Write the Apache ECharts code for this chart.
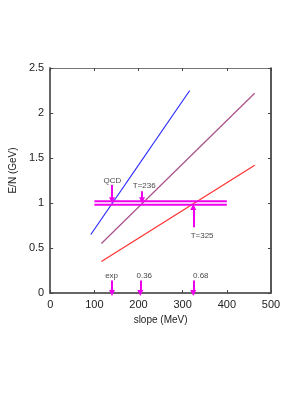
<!DOCTYPE html>
<html><head><meta charset="utf-8">
<script src="https://cdn.jsdelivr.net/npm/echarts@6/dist/echarts.min.js"></script>
<style>html,body{margin:0;padding:0;background:#fff}#c{width:286px;height:409px}</style>
</head><body><div id="c"></div>
<script>
// lines: [slope MeV, E/N GeV]
const blueLine = [[92, 0.65], [316, 2.25]];
const purpleLine = [[116, 0.55], [463, 2.22]];
const redLine = [[116, 0.35], [463, 1.42]];
const bandHigh = [[100, 1.02], [400, 1.02]];
const bandLow = [[100, 0.98], [400, 0.98]];
// arrows
const arrowX = [140, 208, 324, 140, 204, 324];
const arrowFrom = [1.20, 1.13, 0.73, 0.14, 0.14, 0.14];
const arrowTo = [1.03, 1.03, 0.955, 0.0, 0.0, 0.0];
// arrow labels
const labelText = ['QCD', 'T=236', 'T=325', 'exp', '0.36', '0.68'];
const labelX = [141, 213, 344, 139, 213, 341];
const labelY = [1.246, 1.187, 0.636, 0.186, 0.186, 0.186];
// axes
const xTicks = [0, 100, 200, 300, 400, 500];
const yTicks = [0, 0.5, 1, 1.5, 2, 2.5];

const font = 'Liberation Sans, Arial, Helvetica, sans-serif';
const chart = echarts.init(document.getElementById('c'), null, {renderer: 'canvas'});
const mag = '#ee00ee';
chart.setOption({
  animation: false,
  backgroundColor: '#fff',
  grid: {left: 46, right: 15, top: 68, bottom: 116},
  xAxis: [{
    type: 'value', position: 'bottom', min: xTicks[0], max: xTicks[xTicks.length-1], interval: 100,
    name: 'slope (MeV)', nameLocation: 'middle', nameGap: 20,
    nameTextStyle: {fontFamily: font, fontSize: 10, color: '#222'},
    axisLine: {show: true, onZero: false, lineStyle: {color: '#666', width: 2}},
    axisTick: {show: true, inside: true, length: 3, lineStyle: {color: '#444'}},
    axisLabel: {fontFamily: font, fontSize: 11, color: '#222', margin: 6},
    splitLine: {show: false}
  }, {
    type: 'value', position: 'top', min: xTicks[0], max: xTicks[xTicks.length-1], interval: 100,
    axisLine: {show: true, onZero: false, lineStyle: {color: '#777', width: 1}},
    axisTick: {show: true, inside: true, length: 3, lineStyle: {color: '#444'}},
    axisLabel: {show: false}, splitLine: {show: false}
  }],
  yAxis: [{
    type: 'value', position: 'left', min: yTicks[0], max: yTicks[yTicks.length-1], interval: 0.5,
    name: 'E/N (GeV)', nameLocation: 'middle', nameGap: 30, nameRotate: 90,
    nameTextStyle: {fontFamily: font, fontSize: 10, color: '#222', padding: [0, 0, 0, 20]},
    axisLine: {show: true, onZero: false, lineStyle: {color: '#666', width: 2}},
    axisTick: {show: true, inside: true, length: 3, lineStyle: {color: '#444'}},
    axisLabel: {fontFamily: font, fontSize: 11, color: '#222', margin: 6},
    splitLine: {show: false}
  }, {
    type: 'value', position: 'right', min: yTicks[0], max: yTicks[yTicks.length-1], interval: 0.5,
    axisLine: {show: true, onZero: false, lineStyle: {color: '#222', width: 1.5}},
    axisTick: {show: true, inside: true, length: 3, lineStyle: {color: '#444'}},
    axisLabel: {show: false}, splitLine: {show: false}
  }],
  series: [
    {type: 'line', data: blueLine, symbol: 'none', lineStyle: {color: '#2a2aff', width: 1.2}},
    {type: 'line', data: purpleLine, symbol: 'none', lineStyle: {color: '#a8508a', width: 1.2}},
    {type: 'line', data: redLine, symbol: 'none', lineStyle: {color: '#ff3030', width: 1.2}},
    {type: 'line', data: bandHigh, symbol: 'none', lineStyle: {color: mag, width: 2}},
    {type: 'line', data: bandLow, symbol: 'none', lineStyle: {color: mag, width: 2},
      markLine: {
        silent: true, animation: false,
        symbol: ['none', 'triangle'], symbolSize: [6, 6],
        label: {show: false},
        lineStyle: {color: mag, width: 2, type: 'solid'},
        data: arrowX.map((x, i) => [{coord: [x, arrowFrom[i]]}, {coord: [x, arrowTo[i]]}])
      }},
    {type: 'scatter', symbolSize: 0, silent: true,
      data: labelText.map((t, i) => [labelX[i], labelY[i], t]),
      label: {show: true, position: 'inside', formatter: p => p.value[2],
        fontFamily: font, fontSize: 8, color: '#111', align: 'center', verticalAlign: 'middle'}}
  ]
});
</script></body></html>
